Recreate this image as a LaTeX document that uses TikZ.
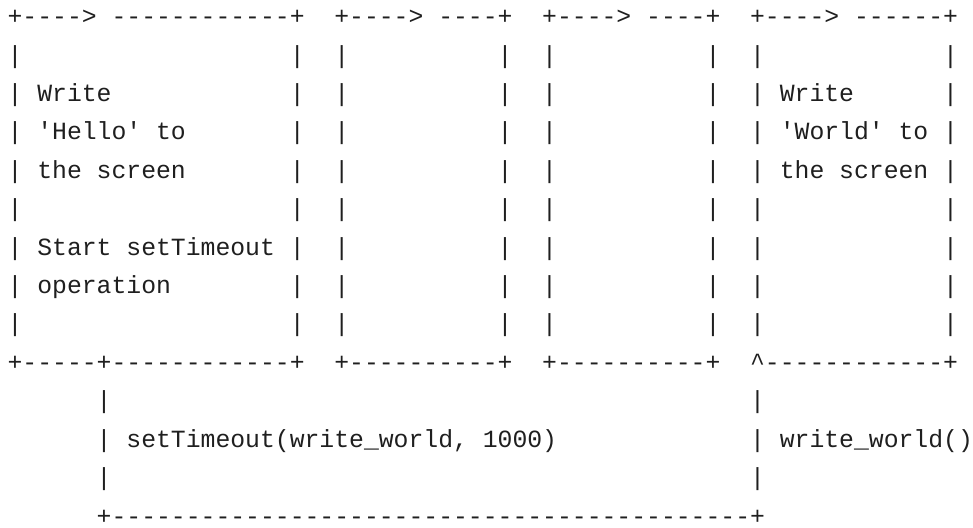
\documentclass[tikz,border=0pt]{standalone}
\usepackage{fontspec}
\setmonofont{Liberation Mono}
\newcommand\colx[1]{7.6+14.85*#1}
\newcommand\rowy[1]{24.6+38.42*#1}
\newcommand\ascseg[4]{\node[asc] (#1) at ({\colx{#2}},{\rowy{#3}}) {#4};}
\begin{document}
\begin{tikzpicture}[x=1pt,y=-1pt,
  asc/.style={anchor=base west, inner sep=0pt, outer sep=0pt,
    font=\ttfamily\fontsize{24.75}{30}\selectfont, text=black!88}]
\useasboundingbox (0,0) rectangle (973,527);
% top borders
\ascseg{t1}{0}{0}{+----> ------------+}
\ascseg{t2}{22}{0}{+----> ----+}
\ascseg{t3}{36}{0}{+----> ----+}
\ascseg{t4}{50}{0}{+----> ------+}
% side bars
\foreach \r in {1,...,8}{
  \foreach \c in {0,19,22,33,36,47,50,63}{
    \node[asc] (bar-\r-\c) at ({\colx{\c}},{\rowy{\r}}) {|};
  }
}
% box texts
\ascseg{w1}{2}{2}{Write}
\ascseg{h1}{2}{3}{'Hello' to}
\ascseg{s1}{2}{4}{the screen}
\ascseg{st}{2}{6}{Start setTimeout}
\ascseg{op}{2}{7}{operation}
\ascseg{w4}{52}{2}{Write}
\ascseg{h4}{52}{3}{'World' to}
\ascseg{s4}{52}{4}{the screen}
% bottom borders
\ascseg{b1}{0}{9}{+-----+------------+}
\ascseg{b2}{22}{9}{+----------+}
\ascseg{b3}{36}{9}{+----------+}
\ascseg{b4}{50}{9}{\textasciicircum------------+}
% lower loop
\foreach \r in {10,11,12}{
  \foreach \c in {6,50}{
    \node[asc] (lbar-\r-\c) at ({\colx{\c}},{\rowy{\r}}) {|};
  }
}
\ascseg{call}{8}{11}{setTimeout(write\_world, 1000)}
\ascseg{cb}{52}{11}{write\_world()}
\ascseg{loop}{6}{13}{+-------------------------------------------+}
\end{tikzpicture}
\end{document}
